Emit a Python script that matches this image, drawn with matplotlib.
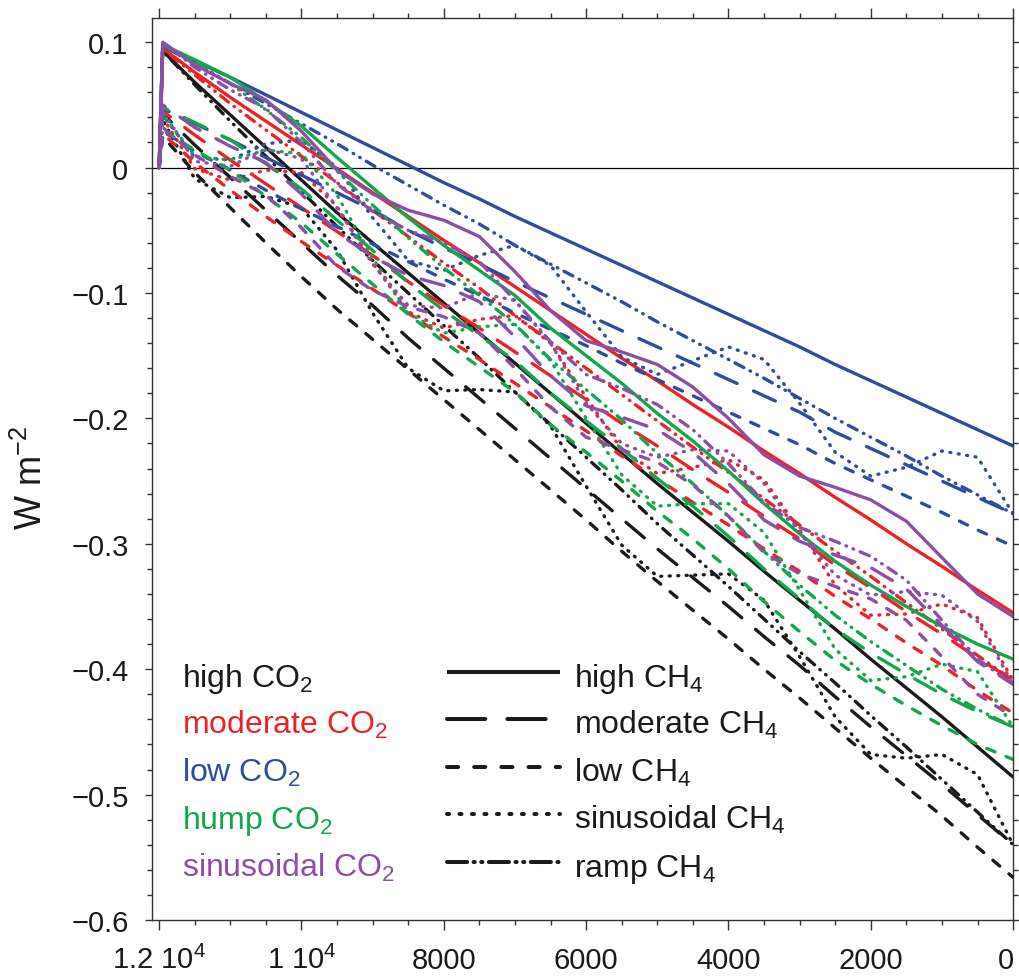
import matplotlib
matplotlib.use("Agg")
import matplotlib.pyplot as plt
import matplotlib.transforms as mtransforms
from matplotlib.ticker import MultipleLocator, FuncFormatter

plt.rcParams["font.family"] = ["Liberation Sans", "DejaVu Sans"]
plt.rcParams["mathtext.fontset"] = "custom"
plt.rcParams["mathtext.rm"] = "Liberation Sans"
plt.rcParams["mathtext.it"] = "Liberation Sans:italic"
plt.rcParams["mathtext.bf"] = "Liberation Sans:bold"

# years before present
years = [12000, 11950, 11500, 11000, 10500, 10000, 9500, 9000, 8500, 8000, 7500, 7000, 6500,
         6000, 5500, 5000, 4500, 4000, 3500, 3000, 2500, 2000, 1500, 1000, 500, 0]

# forcing (W m-2), named <CO2 scenario>_<CH4 scenario>
high_high = [0, 0.093, 0.068, 0.042, 0.016, -0.010, -0.036, -0.060, -0.084, -0.108, -0.132, -0.156, -0.180,
             -0.204, -0.228, -0.252, -0.275, -0.298, -0.322, -0.345, -0.368, -0.392, -0.415, -0.438, -0.462, -0.486]
high_moderate = [0, 0.043, 0.018, -0.008, -0.034, -0.060, -0.086, -0.110, -0.136, -0.160, -0.184, -0.208, -0.232,
                 -0.256, -0.280, -0.304, -0.327, -0.350, -0.374, -0.397, -0.422, -0.446, -0.469, -0.492, -0.516, -0.540]
high_low = [0, 0.025, -0.004, -0.032, -0.060, -0.087, -0.113, -0.137, -0.161, -0.185, -0.209, -0.233, -0.257,
            -0.281, -0.306, -0.330, -0.353, -0.376, -0.400, -0.423, -0.447, -0.471, -0.494, -0.517, -0.542, -0.566]
high_sinus = [0, 0.038, -0.009, -0.024, -0.023, -0.032, -0.066, -0.116, -0.160, -0.178, -0.177, -0.179, -0.206,
              -0.254, -0.301, -0.326, -0.325, -0.324, -0.345, -0.390, -0.438, -0.468, -0.471, -0.468, -0.484, -0.540]
high_ramp = [0, 0.093, 0.066, 0.037, 0.009, -0.019, -0.047, -0.074, -0.100, -0.126, -0.152, -0.179, -0.205,
             -0.231, -0.257, -0.284, -0.309, -0.334, -0.360, -0.386, -0.411, -0.437, -0.462, -0.488, -0.514, -0.540]

moderate_high = [0, 0.095, 0.076, 0.056, 0.037, 0.018, -0.001, -0.020, -0.039, -0.058, -0.076, -0.095, -0.114,
                 -0.133, -0.152, -0.170, -0.189, -0.207, -0.226, -0.244, -0.263, -0.281, -0.300, -0.318, -0.337, -0.355]
moderate_moderate = [0, 0.045, 0.026, 0.006, -0.013, -0.032, -0.051, -0.070, -0.091, -0.110, -0.128, -0.147, -0.166,
                     -0.185, -0.204, -0.222, -0.241, -0.259, -0.278, -0.296, -0.317, -0.335, -0.354, -0.372, -0.391, -0.409]
moderate_low = [0, 0.027, 0.004, -0.018, -0.039, -0.059, -0.078, -0.097, -0.116, -0.135, -0.153, -0.172, -0.191,
                -0.210, -0.230, -0.248, -0.267, -0.285, -0.304, -0.322, -0.342, -0.360, -0.379, -0.397, -0.417, -0.435]
moderate_sinus = [0, 0.040, -0.001, -0.010, -0.002, -0.004, -0.031, -0.076, -0.115, -0.128, -0.121, -0.118, -0.140,
                  -0.183, -0.225, -0.244, -0.239, -0.233, -0.249, -0.289, -0.333, -0.357, -0.356, -0.348, -0.359, -0.409]
moderate_ramp = [0, 0.095, 0.074, 0.051, 0.030, 0.009, -0.012, -0.034, -0.055, -0.076, -0.096, -0.118, -0.139,
                 -0.160, -0.181, -0.202, -0.223, -0.243, -0.264, -0.285, -0.306, -0.326, -0.347, -0.368, -0.389, -0.409]

low_high = [0, 0.097, 0.085, 0.072, 0.058, 0.044, 0.030, 0.016, 0.002, -0.012, -0.025, -0.039, -0.052,
            -0.065, -0.078, -0.091, -0.104, -0.117, -0.130, -0.143, -0.157, -0.170, -0.183, -0.196, -0.209, -0.222]
low_moderate = [0, 0.047, 0.035, 0.022, 0.008, -0.006, -0.020, -0.034, -0.050, -0.064, -0.077, -0.091, -0.104,
                -0.117, -0.130, -0.143, -0.156, -0.169, -0.182, -0.195, -0.211, -0.224, -0.237, -0.250, -0.263, -0.276]
low_low = [0, 0.029, 0.013, -0.002, -0.018, -0.033, -0.047, -0.061, -0.075, -0.089, -0.102, -0.116, -0.129,
           -0.142, -0.156, -0.169, -0.182, -0.195, -0.208, -0.221, -0.236, -0.249, -0.262, -0.275, -0.289, -0.302]
low_sinus = [0, 0.042, 0.008, 0.006, 0.019, 0.022, 0.000, -0.040, -0.074, -0.082, -0.070, -0.062, -0.078,
             -0.115, -0.151, -0.165, -0.154, -0.143, -0.153, -0.188, -0.227, -0.246, -0.239, -0.226, -0.231, -0.276]
low_ramp = [0, 0.097, 0.083, 0.067, 0.051, 0.035, 0.019, 0.002, -0.014, -0.030, -0.045, -0.062, -0.077,
            -0.092, -0.107, -0.123, -0.138, -0.153, -0.168, -0.184, -0.200, -0.215, -0.230, -0.246, -0.261, -0.276]

hump_high = [0, 0.098, 0.086, 0.072, 0.053, 0.033, 0.008, -0.016, -0.040, -0.062, -0.082, -0.102, -0.128,
             -0.150, -0.172, -0.196, -0.218, -0.242, -0.268, -0.292, -0.314, -0.333, -0.350, -0.366, -0.380, -0.392]
hump_moderate = [0, 0.048, 0.036, 0.022, 0.003, -0.017, -0.042, -0.066, -0.092, -0.114, -0.134, -0.154, -0.180,
                 -0.202, -0.224, -0.248, -0.270, -0.294, -0.320, -0.344, -0.368, -0.387, -0.404, -0.420, -0.434, -0.446]
hump_low = [0, 0.030, 0.014, -0.002, -0.023, -0.044, -0.069, -0.093, -0.117, -0.139, -0.159, -0.179, -0.205,
            -0.227, -0.250, -0.274, -0.296, -0.320, -0.346, -0.370, -0.393, -0.412, -0.429, -0.445, -0.460, -0.472]
hump_sinus = [0, 0.043, 0.009, 0.006, 0.014, 0.011, -0.022, -0.072, -0.116, -0.132, -0.127, -0.125, -0.154,
              -0.200, -0.245, -0.270, -0.268, -0.268, -0.291, -0.337, -0.384, -0.409, -0.406, -0.396, -0.402, -0.446]
hump_ramp = [0, 0.098, 0.084, 0.067, 0.046, 0.024, -0.003, -0.030, -0.056, -0.080, -0.102, -0.125, -0.153,
             -0.177, -0.201, -0.228, -0.252, -0.278, -0.306, -0.333, -0.357, -0.378, -0.397, -0.416, -0.432, -0.446]

sinus_high = [0, 0.100, 0.082, 0.067, 0.054, 0.029, -0.002, -0.021, -0.034, -0.042, -0.055, -0.083, -0.114,
              -0.138, -0.147, -0.157, -0.175, -0.200, -0.229, -0.246, -0.255, -0.265, -0.282, -0.311, -0.340, -0.358]
sinus_moderate = [0, 0.050, 0.032, 0.017, 0.004, -0.021, -0.052, -0.071, -0.086, -0.094, -0.107, -0.135, -0.166,
                  -0.190, -0.199, -0.209, -0.227, -0.252, -0.281, -0.298, -0.309, -0.319, -0.336, -0.365, -0.394, -0.412]
sinus_low = [0, 0.032, 0.010, -0.007, -0.022, -0.048, -0.079, -0.098, -0.111, -0.119, -0.132, -0.160, -0.191,
             -0.215, -0.225, -0.235, -0.253, -0.278, -0.307, -0.324, -0.334, -0.344, -0.361, -0.390, -0.420, -0.438]
sinus_sinus = [0, 0.045, 0.005, 0.001, 0.015, 0.007, -0.032, -0.077, -0.110, -0.112, -0.100, -0.106, -0.140,
               -0.188, -0.220, -0.231, -0.225, -0.226, -0.252, -0.291, -0.325, -0.341, -0.338, -0.341, -0.362, -0.412]
sinus_ramp = [0, 0.100, 0.080, 0.062, 0.047, 0.020, -0.013, -0.035, -0.050, -0.060, -0.075, -0.106, -0.139,
              -0.165, -0.176, -0.189, -0.209, -0.236, -0.267, -0.287, -0.298, -0.310, -0.329, -0.361, -0.392, -0.412]

co2_labels = ["high CO$_2$", "moderate CO$_2$", "low CO$_2$", "hump CO$_2$", "sinusoidal CO$_2$"]
ch4_labels = ["high CH$_4$", "moderate CH$_4$", "low CH$_4$", "sinusoidal CH$_4$", "ramp CH$_4$"]
xtick_values = [12000, 10000, 8000, 6000, 4000, 2000, 0]
xtick_labels = ["1.2 10$^{4}$", "1 10$^{4}$", "8000", "6000", "4000", "2000", "0"]

groups = [
    [high_high, high_moderate, high_low, high_sinus, high_ramp],
    [moderate_high, moderate_moderate, moderate_low, moderate_sinus, moderate_ramp],
    [low_high, low_moderate, low_low, low_sinus, low_ramp],
    [hump_high, hump_moderate, hump_low, hump_sinus, hump_ramp],
    [sinus_high, sinus_moderate, sinus_low, sinus_sinus, sinus_ramp],
]
colors = ["#1b1b1b", "#ec2227", "#2e4d9f", "#14a64c", "#8d4ea6"]

# dash patterns (in line widths) for high, moderate, low, sinusoidal, ramp CH4
line_styles = ["-", (0, (7.2, 5.4)), (0, (2.7, 3.6)), (0, (0.3, 2.25)),
               (0, (3.0, 2.1, 0.2, 2.1, 0.2, 2.1))]
key_styles = ["-", (0, (9.5, 5.5)), (0, (2.75, 4.0)), (0, (0.5, 2.6)),
              (0, (5.0, 1.6, 0.3, 1.6, 0.3, 1.6))]

fig = plt.figure(figsize=(10.19, 9.78), dpi=100)
ax = fig.add_axes([0.1492, 0.0583, 0.845, 0.9223])

ax.axhline(0, color="black", lw=0.9, zorder=1)
for color, group in zip(colors, groups):
    for style, values in zip(line_styles, group):
        ax.plot(years, values, color=color, lw=2.4, linestyle=style,
                dash_capstyle="round", solid_capstyle="round", zorder=2)

ax.set_xlim(12100, 0)
ax.set_ylim(-0.6, 0.1193)

ax.set_xticks(xtick_values)
ax.set_xticklabels(xtick_labels)
ax.xaxis.set_minor_locator(MultipleLocator(500))
ax.yaxis.set_major_locator(MultipleLocator(0.1))
ax.yaxis.set_minor_locator(MultipleLocator(0.02))


def ylab(v, pos):
    if abs(v) < 1e-9:
        return "0"
    return ("%g" % round(v, 2)).replace("-", "\u2212")


ax.yaxis.set_major_formatter(FuncFormatter(ylab))

ax.tick_params(which="both", direction="out", top=True, right=True, width=1.0,
               color="#333333", labelcolor="#1a1a1a")
ax.tick_params(axis="x", which="major", length=7, pad=27.5, labelsize=21)
ax.tick_params(axis="y", which="major", length=5, pad=12, labelsize=21)
ax.tick_params(which="minor", length=3.6)
for lab in ax.get_xticklabels():
    lab.set_va("baseline")
# keep the last label ("0") inside the canvas
last = ax.get_xticklabels()[-1]
last.set_transform(last.get_transform() + mtransforms.ScaledTranslation(-7 / 100, 0, fig.dpi_scale_trans))

for side in ax.spines.values():
    side.set_linewidth(1.0)
    side.set_color("#333333")

fig.text(0.031, 0.511, "W m$^{-2}$", rotation=90, fontsize=26, ha="center", va="center",
         color="#1a1a1a")

# hand-made key
baselines = [0.2594, 0.2073, 0.1541, 0.1020, 0.0488]
for i in range(5):
    ax.text(0.035, baselines[i], co2_labels[i], transform=ax.transAxes, fontsize=23,
            color=colors[i], ha="left", va="baseline")
    ax.text(0.490, baselines[i], ch4_labels[i], transform=ax.transAxes, fontsize=23,
            color="#1a1a1a", ha="left", va="baseline")
    yk = baselines[i] + 0.0155
    ax.plot([0.343, 0.474], [yk, yk], transform=ax.transAxes, color="#1b1b1b", lw=2.9,
            linestyle=key_styles[i], dash_capstyle="round", solid_capstyle="butt", clip_on=False)

fig.savefig("out.png", dpi=100)
